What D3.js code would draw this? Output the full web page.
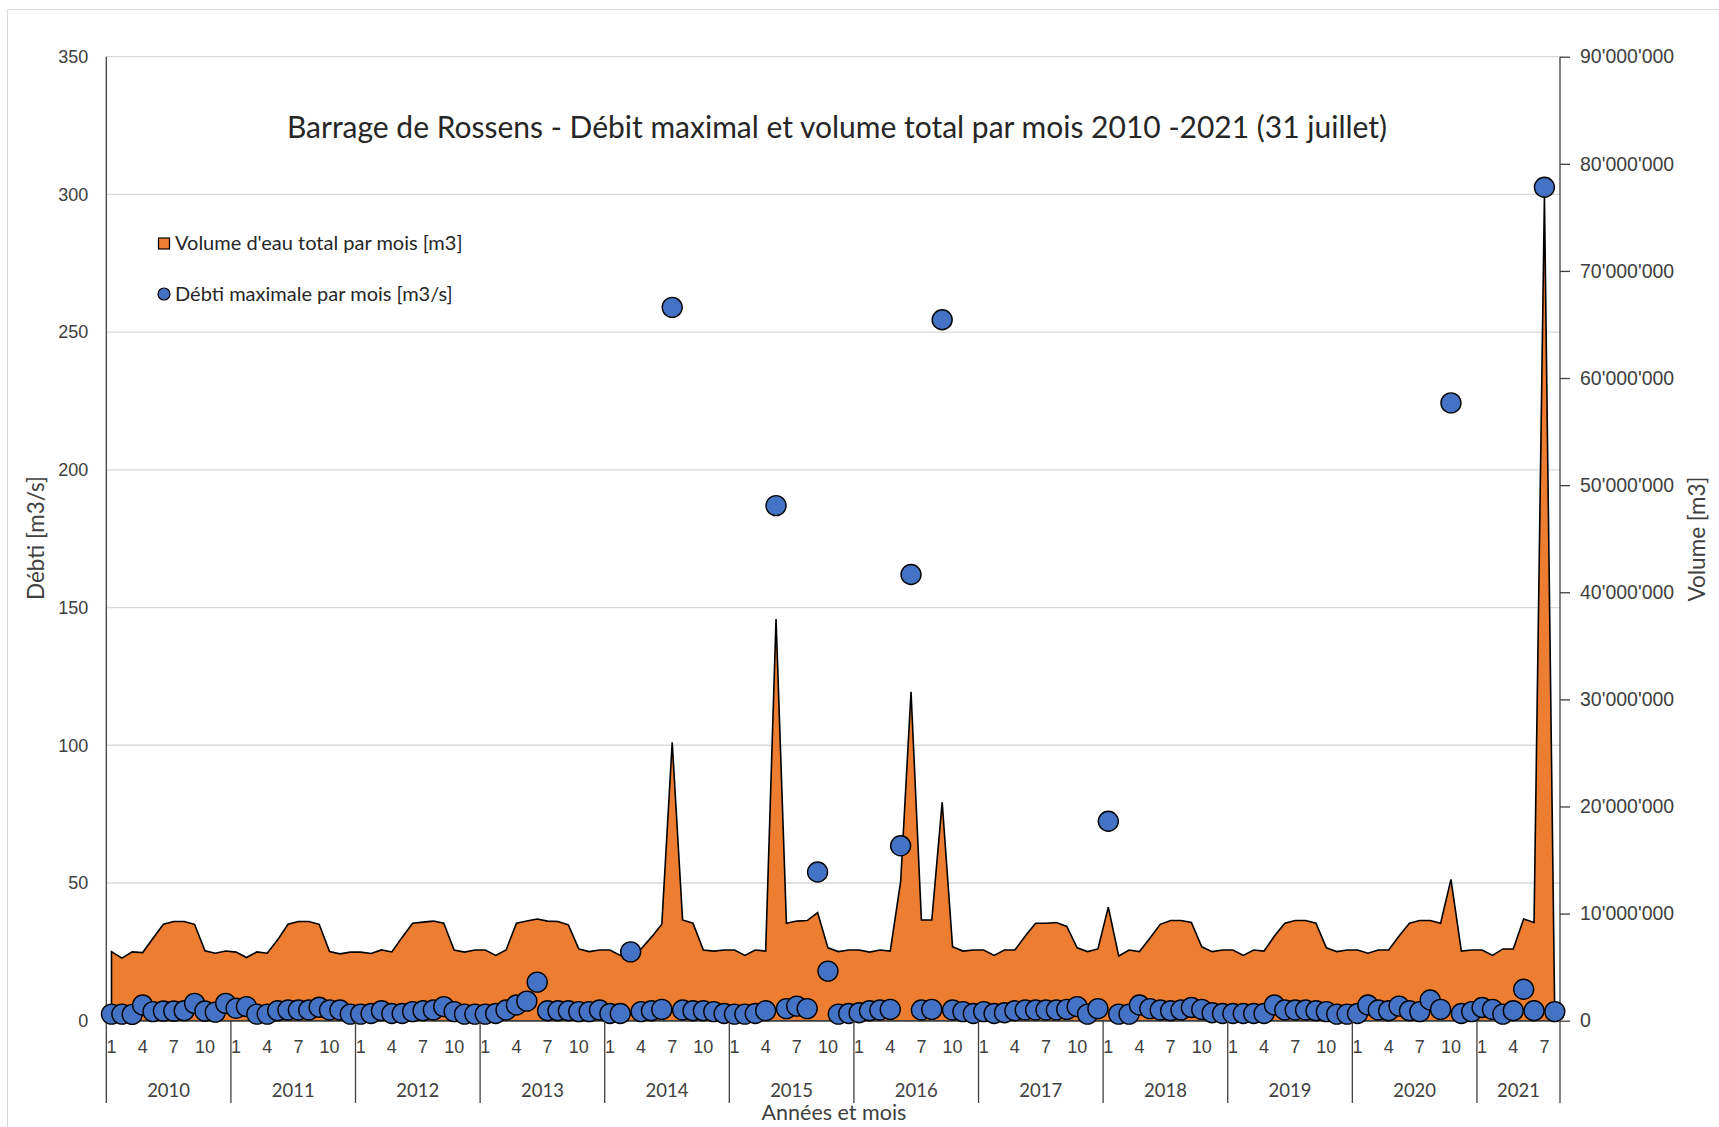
<!DOCTYPE html>
<html>
<head>
<meta charset="utf-8">
<script src="https://cdn.jsdelivr.net/npm/d3@7"></script>
<style>
body { margin: 0; background: #fff; }
svg { display: block; font-family: Lato, "Open Sans", sans-serif; }
</style>
</head>
<body>
<script>
// years shown on the category axis (2021 stops after August)
const years = [2010, 2011, 2012, 2013, 2014, 2015, 2016, 2017, 2018, 2019, 2020, 2021];
const monthsPerYear = [12, 12, 12, 12, 12, 12, 12, 12, 12, 12, 12, 8];
const monthTickLabels = [1, 4, 7, 10];

// Volume d'eau total par mois, millions of m3 (one value per month)
const volumeMillions = [
  6.45, 5.84, 6.42, 6.36, 7.7, 9.0, 9.26, 9.26, 9.0, 6.52, 6.3, 6.5,
  6.4, 5.9, 6.42, 6.3, 7.55, 9.0, 9.26, 9.26, 9.0, 6.45, 6.24, 6.4,
  6.4, 6.27, 6.61, 6.42, 7.8, 9.1, 9.2, 9.3, 9.1, 6.6, 6.4, 6.6,
  6.6, 6.1, 6.6, 9.1, 9.3, 9.5, 9.3, 9.26, 8.95, 6.7, 6.45, 6.6,
  6.6, 6.1, 6.4, 6.7, 7.8, 9.0, 26.0, 9.4, 9.1, 6.6, 6.5, 6.6,
  6.6, 6.1, 6.6, 6.5, 37.5, 9.1, 9.3, 9.35, 10.1, 6.8, 6.45, 6.6,
  6.6, 6.4, 6.6, 6.5, 13.0, 30.7, 9.4, 9.4, 20.4, 6.9, 6.5, 6.6,
  6.6, 6.1, 6.6, 6.6, 7.9, 9.1, 9.1, 9.17, 8.8, 6.8, 6.45, 6.7,
  10.6, 6.05, 6.6, 6.45, 7.7, 9.0, 9.35, 9.35, 9.17, 6.9, 6.45, 6.6,
  6.6, 6.1, 6.6, 6.5, 7.9, 9.1, 9.35, 9.35, 9.1, 6.8, 6.45, 6.6,
  6.6, 6.3, 6.6, 6.6, 7.9, 9.1, 9.35, 9.35, 9.1, 13.2, 6.5, 6.6,
  6.6, 6.1, 6.7, 6.7, 9.5, 9.17, 77.0, 0
];

// Débit maximal par mois, m3/s
const debit = [
  2.4, 2.4, 2.3, 5.7, 3.3, 3.5, 3.5, 3.6, 6.3, 3.5, 3.1, 6.3,
  4.5, 5.1, 2.4, 2.4, 3.6, 3.9, 3.9, 3.9, 4.9, 3.9, 3.9, 2.4,
  2.4, 2.6, 3.6, 2.6, 2.6, 3.3, 3.6, 3.9, 5.1, 3.3, 2.4, 2.4,
  2.4, 2.6, 3.9, 5.7, 7.1, 14.0, 3.6, 3.6, 3.6, 3.3, 3.3, 3.9,
  2.6, 2.6, 25.0, 3.3, 3.6, 4.1, 259.0, 3.9, 3.6, 3.6, 3.3, 2.6,
  2.4, 2.4, 2.6, 3.6, 187.0, 4.4, 5.3, 4.4, 54.0, 18.0, 2.4, 2.6,
  2.9, 3.6, 3.9, 4.1, 63.5, 162.0, 3.9, 4.1, 254.5, 3.9, 3.3, 2.6,
  3.3, 2.6, 2.9, 3.6, 3.9, 3.9, 3.9, 3.9, 4.1, 5.1, 2.4, 4.4,
  72.4, 2.4, 2.4, 5.7, 4.4, 3.9, 3.6, 3.9, 4.8, 4.1, 2.9, 2.6,
  2.6, 2.6, 2.6, 2.6, 5.7, 3.9, 3.9, 3.9, 3.6, 3.3, 2.4, 2.4,
  2.6, 5.7, 3.9, 3.6, 5.3, 3.6, 3.3, 7.5, 4.1, 224.3, 2.6, 3.3,
  4.8, 4.1, 2.4, 3.6, 11.4, 3.6, 302.6, 3.3
];

const debitTicks = [0, 50, 100, 150, 200, 250, 300, 350];
const volumeTicks = [0, 10e6, 20e6, 30e6, 40e6, 50e6, 60e6, 70e6, 80e6, 90e6];

const titleText = "Barrage de Rossens - Débit maximal et volume total par mois 2010 -2021 (31 juillet)";

// build categories (year, month)
var categories = [];
years.forEach((y, k) => {
    for (let m = 1; m <= monthsPerYear[k]; m++) categories.push({ year: y, month: m });
});

const width = 1719, height = 1127;
const plotLeft = 106.3, plotRight = 1560, plotTop = 56.7, plotBottom = 1020.7, catBottom = 1103;
const textColor = "#404040";

const svg = d3.select("body").append("svg")
    .attr("width", width)
    .attr("height", height);

const x = d3.scaleBand()
    .domain(d3.range(categories.length))
    .range([plotLeft, plotRight])
    .padding(0);
const cx = i => x(i) + x.bandwidth() / 2;

const yDebit = d3.scaleLinear().domain([0, 350]).range([plotBottom, plotTop]);
const yVolume = d3.scaleLinear().domain([0, 90e6]).range([plotBottom, plotTop]);

// chart border
svg.append("rect")
    .attr("x", 7.5).attr("y", 9.5)
    .attr("width", 1800).attr("height", 1200)
    .attr("fill", "none")
    .attr("stroke", "#d9d9d9");

// gridlines
svg.append("g")
    .selectAll("line")
    .data(debitTicks)
    .join("line")
    .attr("x1", plotLeft).attr("x2", plotRight)
    .attr("y1", d => yDebit(d)).attr("y2", d => yDebit(d))
    .attr("stroke", "#d9d9d9")
    .attr("stroke-width", 1.3);

// title
svg.append("text")
    .attr("x", 837).attr("y", 138)
    .attr("text-anchor", "middle")
    .attr("font-size", 30)
    .attr("fill", "#262626")
    .text(titleText);

// volume area
const area = d3.area()
    .x((d, i) => cx(i))
    .y0(yVolume(0))
    .y1(d => yVolume(d * 1e6));

svg.append("path")
    .datum(volumeMillions)
    .attr("d", area)
    .attr("fill", "#ED7D31")
    .attr("stroke", "#000")
    .attr("stroke-width", 1.6)
    .attr("stroke-linejoin", "miter");

// axis lines
svg.append("line")
    .attr("x1", plotLeft).attr("x2", plotLeft)
    .attr("y1", plotTop).attr("y2", catBottom)
    .attr("stroke", "#404040").attr("stroke-width", 1.3);
svg.append("line")
    .attr("x1", plotRight).attr("x2", plotRight)
    .attr("y1", plotTop).attr("y2", catBottom)
    .attr("stroke", "#404040").attr("stroke-width", 1.3);
svg.append("line")
    .attr("x1", plotLeft).attr("x2", plotRight)
    .attr("y1", plotBottom).attr("y2", plotBottom)
    .attr("stroke", "#404040").attr("stroke-width", 1.3);

// debit points
svg.append("g")
    .selectAll("circle")
    .data(debit)
    .join("circle")
    .attr("cx", (d, i) => cx(i))
    .attr("cy", d => yDebit(d))
    .attr("r", 10)
    .attr("fill", "#4472C4")
    .attr("stroke", "#000")
    .attr("stroke-width", 1.4);

// left axis
const gLeft = svg.append("g")
    .attr("transform", `translate(${plotLeft},0)`)
    .call(d3.axisLeft(yDebit).tickValues(debitTicks).tickSize(0).tickPadding(18));
gLeft.select(".domain").remove();
gLeft.selectAll("text").attr("font-size", 18).attr("fill", textColor).attr("font-family", null);

// right axis
const volFormat = v => d3.format(",")(v).replace(/,/g, "'");
const gRight = svg.append("g")
    .attr("transform", `translate(${plotRight},0)`)
    .call(d3.axisRight(yVolume).tickValues(volumeTicks).tickSize(10).tickPadding(10).tickFormat(volFormat));
gRight.select(".domain").remove();
gRight.selectAll("line").attr("stroke", "#404040").attr("stroke-width", 1.3);
gRight.selectAll("text").attr("font-size", 19.5).attr("fill", textColor).attr("font-family", null);

// month labels
const gMonths = svg.append("g")
    .attr("transform", `translate(0,${plotBottom})`)
    .call(d3.axisBottom(x)
        .tickValues(d3.range(categories.length).filter(i => monthTickLabels.includes(categories[i].month)))
        .tickFormat(i => categories[i].month)
        .tickSize(0)
        .tickPadding(20));
gMonths.select(".domain").remove();
gMonths.selectAll("text").attr("font-size", 18).attr("fill", textColor).attr("font-family", null);

// year groups
const yearGroups = years.map(y => {
    const idx = d3.range(categories.length).filter(i => categories[i].year === y);
    return { year: y, x0: x(idx[0]), x1: x(idx[idx.length - 1]) + x.bandwidth() };
});

svg.append("g")
    .selectAll("line")
    .data(yearGroups.slice(1))
    .join("line")
    .attr("x1", d => d.x0).attr("x2", d => d.x0)
    .attr("y1", plotBottom).attr("y2", catBottom)
    .attr("stroke", "#404040").attr("stroke-width", 1.3);

svg.append("g")
    .selectAll("text")
    .data(yearGroups)
    .join("text")
    .attr("x", d => (d.x0 + d.x1) / 2)
    .attr("y", 1096.5)
    .attr("text-anchor", "middle")
    .attr("font-size", 18.5)
    .attr("fill", textColor)
    .text(d => d.year);

// axis titles
svg.append("text")
    .attr("transform", "translate(44,538) rotate(-90)")
    .attr("text-anchor", "middle")
    .attr("font-size", 22.5)
    .attr("fill", textColor)
    .text("Débti [m3/s]");

svg.append("text")
    .attr("transform", "translate(1705,539) rotate(-90)")
    .attr("text-anchor", "middle")
    .attr("font-size", 22.5)
    .attr("fill", textColor)
    .text("Volume [m3]");

svg.append("text")
    .attr("x", 834).attr("y", 1120)
    .attr("text-anchor", "middle")
    .attr("font-size", 21.5)
    .attr("fill", textColor)
    .text("Années et mois");

// legend
const legend = svg.append("g");
legend.append("rect")
    .attr("x", 158.5).attr("y", 238)
    .attr("width", 11).attr("height", 11)
    .attr("fill", "#ED7D31")
    .attr("stroke", "#000").attr("stroke-width", 1.2);
legend.append("text")
    .attr("x", 175).attr("y", 250)
    .attr("font-size", 20)
    .attr("fill", "#262626")
    .text("Volume d'eau total par mois [m3]");
legend.append("circle")
    .attr("cx", 164).attr("cy", 294)
    .attr("r", 6)
    .attr("fill", "#4472C4")
    .attr("stroke", "#000").attr("stroke-width", 1.2);
legend.append("text")
    .attr("x", 175).attr("y", 300.5)
    .attr("font-size", 20)
    .attr("fill", "#262626")
    .text("Débti maximale par mois [m3/s]");
</script>
</body>
</html>
